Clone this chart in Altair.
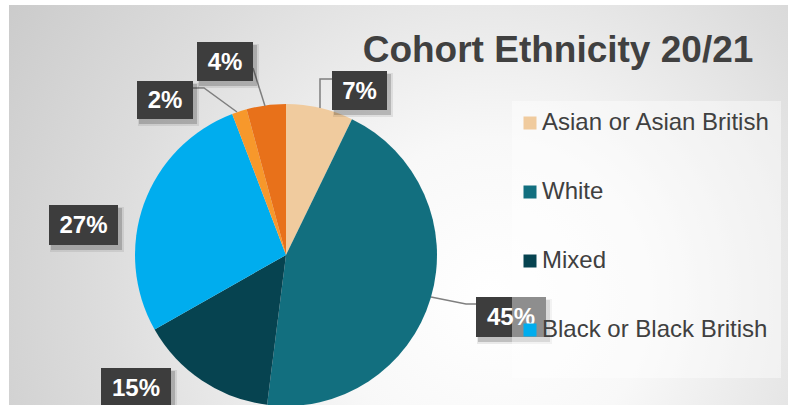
import altair as alt
import pandas as pd

# ---------------- data ----------------
categories = ["Asian or Asian British", "White", "Mixed", "Black or Black British",
              "Other", "Not known"]
shares = [7.2, 44.8, 14.8, 27.4, 1.6, 4.2]
pct_labels = ["7%", "45%", "15%", "27%", "2%", "4%"]
colors = ["#F0CB9E", "#126F7F", "#064350", "#00ADEE", "#F7982B", "#E8711A"]
legend_items = categories[:4]
title_text = "Cohort Ethnicity 20/21"

# ---------------- layout (pixels) ----------------
CX, CY, R = 286, 255, 151
label_boxes = [  # x0, y0, x1, y1 for each label, same order as pct_labels
    (332, 71, 387, 110),
    (476, 297, 546, 337),
    (101, 368, 171, 408),
    (49, 205, 118, 245),
    (137, 81, 193, 119),
    (197, 42, 253, 81),
]
leader_paths = [  # polylines, same order as pct_labels (None = no leader)
    [(332, 79), (320, 79), (320, 108)],
    [(476, 304), (466, 304), (431, 297)],
    None,
    None,
    [(193, 88), (204, 88), (237, 112)],
    [(253, 68), (265, 106)],
]

FONT = "Arial, Liberation Sans, sans-serif"
TXT = "#404040"

pie_df = pd.DataFrame({"cat": categories, "share": shares, "idx": list(range(len(categories)))})

box_df = pd.DataFrame({
    "text": pct_labels,
    "x0": [b[0] for b in label_boxes],
    "y0": [b[1] for b in label_boxes],
    "x1": [b[2] for b in label_boxes],
    "y1": [b[3] for b in label_boxes],
})
box_df["cx"] = (box_df.x0 + box_df.x1) / 2
box_df["cy"] = (box_df.y0 + box_df.y1) / 2

lead_rows = []
for lab, path in zip(pct_labels, leader_paths):
    if path:
        for k, (px, py) in enumerate(path):
            lead_rows.append({"lbl": lab, "k": k, "x": px, "y": py})
lead_df = pd.DataFrame(lead_rows)

one = pd.DataFrame({"a": [0]})

# ---------------- layers ----------------
bg = alt.Chart(one).mark_rect(
    fill={
        "gradient": "radial",
        "x1": 0.62, "y1": 0.62, "r1": 0,
        "x2": 0.62, "y2": 0.62, "r2": 0.82,
        "stops": [
            {"offset": 0.0, "color": "#ffffff"},
            {"offset": 0.25, "color": "#f8f8f8"},
            {"offset": 0.6, "color": "#dddddd"},
            {"offset": 1.0, "color": "#c4c4c4"},
        ],
    }
).encode(x=alt.value(9), x2=alt.value(788), y=alt.value(5), y2=alt.value(405))

pie = alt.Chart(pie_df).mark_arc(outerRadius=R, strokeWidth=0).encode(
    theta=alt.Theta("share:Q", stack=True),
    color=alt.Color(
        "cat:N",
        scale=alt.Scale(domain=categories, range=colors),
        legend=alt.Legend(
            values=legend_items, orient="none", direction="vertical",
            legendX=518, legendY=111, title=None,
            symbolType="square", symbolSize=169, symbolStrokeWidth=0, symbolOpacity=1,
            labelFontSize=24, labelFont=FONT, labelColor=TXT, labelOffset=0,
            rowPadding=45, padding=0, labelLimit=400,
        ),
    ),
    order=alt.Order("idx:Q"),
    x=alt.value(CX), y=alt.value(CY),
)

leaders = alt.Chart(lead_df).mark_line(color="#7f7f7f", strokeWidth=1.5).encode(
    x=alt.X("x:Q", scale=None), y=alt.Y("y:Q", scale=None),
    detail="lbl:N", order="k:Q",
)

shadow1 = alt.Chart(box_df).transform_calculate(
    sx0="datum.x0 + 1", sx1="datum.x1 + 6", sy0="datum.y0 + 2", sy1="datum.y1 + 7"
).mark_rect(color="#000000", opacity=0.08).encode(
    x=alt.X("sx0:Q", scale=None), x2="sx1:Q",
    y=alt.Y("sy0:Q", scale=None), y2="sy1:Q",
)
shadow2 = alt.Chart(box_df).transform_calculate(
    sx0="datum.x0 + 2", sx1="datum.x1 + 4", sy0="datum.y0 + 3", sy1="datum.y1 + 5"
).mark_rect(color="#000000", opacity=0.18).encode(
    x=alt.X("sx0:Q", scale=None), x2="sx1:Q",
    y=alt.Y("sy0:Q", scale=None), y2="sy1:Q",
)

boxes = alt.Chart(box_df).mark_rect(color="#3d3d3d").encode(
    x=alt.X("x0:Q", scale=None), x2="x1:Q",
    y=alt.Y("y0:Q", scale=None), y2="y1:Q",
)

box_text = alt.Chart(box_df).mark_text(
    font=FONT, fontWeight="bold", fontSize=24, color="white",
    align="center", baseline="middle", dy=1,
).encode(
    x=alt.X("cx:Q", scale=None), y=alt.Y("cy:Q", scale=None), text="text:N",
)

legend_bg = alt.Chart(one).mark_rect(color="#ffffff", opacity=0.42).encode(
    x=alt.value(512), x2=alt.value(781), y=alt.value(101), y2=alt.value(378)
)

title = alt.Chart(pd.DataFrame({"t": [title_text]})).mark_text(
    font=FONT, fontWeight="bold", fontSize=37, color=TXT,
    align="center", baseline="alphabetic",
).encode(x=alt.value(558), y=alt.value(62), text="t:N")

chart = alt.layer(
    bg, pie, leaders, shadow1, shadow2, boxes, box_text, legend_bg, title
).properties(
    width=788, height=405, padding=0, autosize="none", background="white"
).configure_view(strokeWidth=0)

chart.save("out.html", embed_options={"renderer": "svg", "actions": False})
